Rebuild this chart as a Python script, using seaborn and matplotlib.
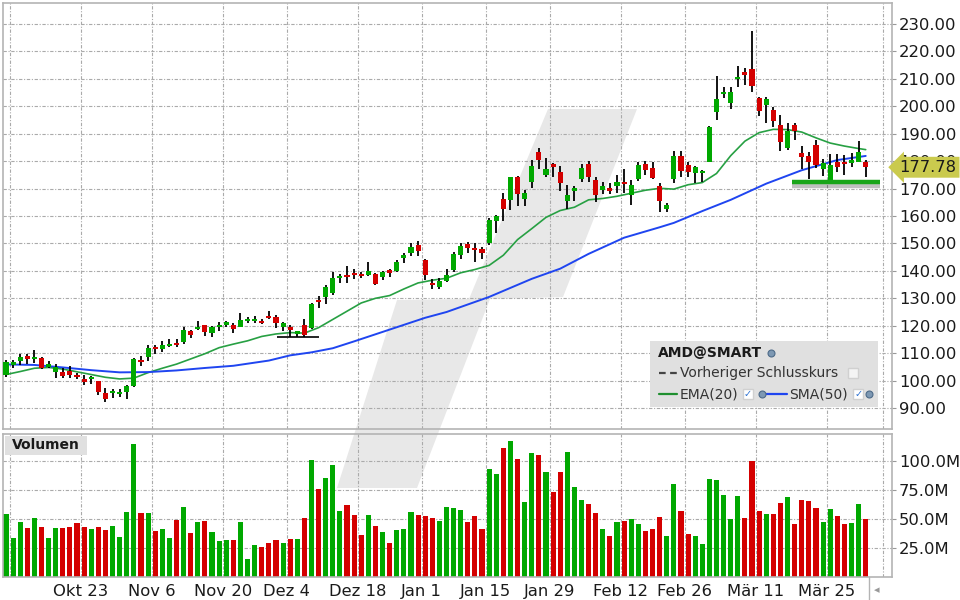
import numpy as np
import pandas as pd
import matplotlib as mpl
mpl.use('Agg')
import matplotlib.pyplot as plt
import matplotlib.patheffects as pe
from matplotlib.patches import Polygon, Rectangle
from matplotlib.lines import Line2D
from matplotlib.transforms import blended_transform_factory
import seaborn as sns

sns.set_style('white', {'axes.edgecolor': '#b4b4b4'})
mpl.rcParams.update({'font.family': ['DejaVu Sans'], 'font.size': 11.8,
                     'text.color': '#1a1a1a'})

# Data (AMD daily, Oct 6 2023 - Apr 2 2024)
start_date = '2023-10-06'
end_date = '2024-04-02'
holidays = ['2023-11-23', '2023-12-25', '2024-01-01', '2024-01-15',
            '2024-02-19', '2024-03-29']

opens = [102.0, 105.8, 107.1, 109.0, 107.9, 108.2, 105.1, 103.1, 103.2, 103.5,
         102.0, 100.5, 100.6, 99.9, 95.4, 95.4, 95.1, 95.8, 98.0, 107.6,
         108.7, 112.4, 111.5, 112.6, 113.7, 114.2, 118.1, 118.8, 120.3, 117.2,
         119.4, 120.3, 120.1, 119.7, 121.6, 121.8, 121.7, 123.6, 123.2, 119.7,
         119.5, 117.1, 120.1, 119.0, 129.5, 130.6, 132.1, 137.5, 138.5, 139.2,
         138.9, 138.5, 138.9, 137.8, 140.3, 139.9, 144.8, 146.4, 149.4, 144.0,
         135.6, 134.2, 136.4, 140.3, 145.8, 149.8, 148.5, 148.0, 150.0, 158.3,
         166.2, 165.8, 174.2, 166.2, 172.4, 183.3, 175.0, 179.1, 176.0, 165.6,
         169.2, 173.6, 179.0, 173.1, 169.6, 170.2, 171.0, 172.4, 167.7, 173.5,
         179.0, 177.6, 170.9, 162.6, 173.4, 181.9, 178.6, 175.8, 175.8, 179.8,
         198.0, 204.5, 201.1, 209.9, 212.5, 213.6, 202.9, 200.6, 198.6, 193.2,
         184.9, 193.2, 182.9, 181.9, 185.9, 177.1, 172.5, 179.8, 179.8, 179.2,
         179.8, 179.6]
highs = [107.5, 107.5, 109.7, 109.7, 111.1, 108.7, 107.0, 106.0, 104.5, 105.3,
         102.9, 102.0, 101.7, 100.0, 97.2, 96.8, 96.8, 98.4, 108.1, 109.0,
         113.0, 113.0, 114.4, 115.2, 115.3, 119.4, 118.4, 121.7, 120.4, 119.9,
         121.5, 121.9, 120.9, 124.5, 123.3, 123.6, 122.3, 125.4, 123.9, 121.2,
         120.3, 118.2, 122.6, 128.2, 130.8, 134.8, 139.7, 138.9, 141.8, 140.7,
         139.7, 143.3, 139.1, 139.9, 140.6, 143.8, 146.4, 150.3, 150.9, 144.4,
         136.9, 137.3, 140.7, 147.0, 150.0, 150.5, 150.0, 148.8, 159.4, 160.4,
         168.5, 174.4, 174.6, 169.5, 180.4, 184.9, 181.1, 179.5, 178.2, 171.3,
         170.9, 179.0, 179.9, 174.1, 172.5, 172.2, 175.0, 177.1, 173.1, 179.8,
         180.2, 179.8, 171.9, 164.9, 183.7, 183.7, 179.8, 178.4, 176.8, 192.8,
         211.0, 207.2, 207.2, 214.7, 213.8, 227.4, 203.5, 203.5, 199.6, 196.8,
         193.8, 193.8, 185.5, 183.5, 187.7, 180.7, 182.6, 182.6, 182.2, 183.1,
         187.4, 180.4]
lows = [101.4, 104.5, 105.7, 106.0, 106.3, 104.1, 104.5, 101.1, 101.1, 100.8,
        100.5, 98.4, 98.8, 94.6, 92.3, 93.8, 93.9, 93.4, 97.8, 105.3,
        107.1, 109.7, 110.5, 112.2, 112.4, 113.3, 115.4, 118.4, 116.3, 116.0,
        118.1, 119.4, 117.5, 119.4, 121.1, 121.1, 120.6, 122.3, 119.0, 118.2,
        116.0, 116.0, 116.0, 118.8, 126.3, 127.8, 131.2, 135.7, 135.5, 136.9,
        137.3, 138.1, 134.8, 136.7, 137.9, 139.6, 142.7, 145.5, 145.5, 136.7,
        133.3, 133.5, 136.1, 139.7, 144.3, 146.4, 143.4, 144.3, 149.4, 153.9,
        158.0, 162.2, 163.7, 163.7, 170.1, 177.3, 174.1, 174.1, 169.2, 162.4,
        165.6, 172.5, 172.3, 165.2, 167.9, 167.9, 168.3, 168.3, 164.0, 172.9,
        175.0, 173.4, 161.6, 161.6, 171.9, 174.3, 174.3, 171.9, 172.5, 179.8,
        195.0, 203.1, 198.9, 207.2, 207.8, 205.3, 196.5, 194.0, 192.6, 183.7,
        184.1, 187.7, 177.0, 173.5, 177.4, 174.6, 172.5, 176.2, 175.0, 178.0,
        179.8, 174.3]
closes = [106.7, 106.8, 108.6, 107.9, 108.6, 104.6, 106.0, 104.8, 101.7, 102.0,
          101.2, 99.5, 101.4, 96.0, 93.3, 96.2, 95.8, 98.0, 107.9, 106.9,
          111.9, 111.6, 113.0, 113.5, 113.0, 118.4, 116.6, 119.6, 117.8, 119.6,
          120.3, 121.4, 118.9, 122.1, 122.3, 122.4, 121.1, 122.9, 121.1, 121.1,
          118.4, 118.1, 116.7, 127.9, 128.8, 134.1, 137.4, 138.1, 137.8, 138.5,
          138.1, 140.0, 135.2, 139.7, 139.2, 143.2, 145.8, 148.7, 147.2, 138.6,
          134.8, 136.2, 138.5, 146.2, 149.1, 148.5, 147.7, 146.5, 158.6, 160.0,
          162.6, 174.1, 168.0, 168.5, 178.2, 180.4, 177.1, 177.9, 172.2, 167.6,
          170.2, 177.6, 174.3, 167.8, 170.9, 169.2, 172.4, 171.8, 171.3, 178.6,
          176.8, 174.0, 165.6, 164.0, 181.9, 176.5, 176.2, 177.9, 176.4, 192.6,
          202.7, 205.2, 205.2, 210.6, 211.5, 207.5, 198.4, 202.7, 194.8, 187.1,
          191.1, 191.1, 181.6, 179.8, 178.6, 179.4, 178.6, 178.0, 179.0, 180.4,
          183.3, 177.78]
volumes = [54.0, 33.3, 47.1, 42.0, 50.6, 42.8, 33.3, 42.0, 42.0, 42.8,
           46.3, 42.8, 41.1, 42.8, 40.2, 43.7, 34.2, 55.8, 114.4, 54.9,
           54.9, 39.4, 41.1, 33.3, 48.9, 60.1, 37.6, 47.1, 48.0, 38.5,
           30.8, 31.6, 31.6, 47.1, 15.2, 27.3, 25.6, 29.0, 31.6, 29.0,
           32.5, 32.5, 50.6, 100.6, 75.6, 85.1, 96.3, 56.6, 61.8, 53.2,
           35.9, 53.2, 43.7, 38.5, 29.0, 40.2, 41.1, 55.8, 53.2, 52.3,
           50.6, 48.0, 60.1, 59.2, 57.5, 47.1, 52.3, 41.1, 92.8, 88.5,
           110.9, 117.0, 101.5, 64.4, 106.6, 104.9, 90.2, 73.0, 90.2, 107.5,
           77.3, 66.1, 62.7, 54.9, 41.1, 35.1, 47.1, 48.0, 49.7, 45.4,
           39.4, 41.1, 51.4, 35.1, 79.9, 56.6, 36.8, 35.1, 28.2, 84.2,
           83.3, 70.4, 49.7, 69.5, 50.6, 99.7, 56.6, 54.0, 54.0, 63.5,
           68.7, 45.4, 66.1, 65.2, 59.2, 47.1, 58.3, 52.3, 45.4, 46.3,
           62.7, 49.7]

# EMA(20) and SMA(50) read at bar positions
ema_pos = list(range(0, 121, 2)) + [121]
ema_vals = [102.2, 103.3, 104.5, 104.8, 104.2, 103.2, 102.2, 101.2, 100.6, 100.9,
            102.9, 104.5, 106.0, 107.9, 109.8, 112.0, 113.3, 114.5, 116.1, 117.0,
            117.5, 117.3, 119.3, 122.3, 125.3, 128.3, 130.0, 131.0, 133.4, 135.6,
            136.6, 137.3, 139.3, 140.5, 142.0, 145.7, 151.4, 155.4, 159.5, 162.0,
            163.2, 165.9, 166.4, 167.2, 168.3, 169.4, 170.1, 169.8, 171.4, 172.2,
            175.5, 182.0, 187.3, 190.4, 191.6, 191.5, 190.6, 188.5, 186.6, 185.5,
            184.6, 184.2]
sma_pos = [0, 4, 8, 12, 16, 20, 24, 28, 32, 37, 40, 43, 46, 49, 54, 59, 62, 68,
           74, 78, 82, 87, 92, 94, 98, 102, 107, 112, 117, 121]
sma_vals = [105.9, 105.7, 104.8, 103.8, 103.0, 103.1, 103.7, 104.6, 105.4, 107.3,
            109.2, 110.3, 111.8, 114.3, 118.6, 122.9, 125.0, 130.5, 137.1, 140.8,
            146.2, 152.1, 155.9, 157.5, 161.8, 165.9, 171.8, 176.7, 180.4, 181.9]

tick_dates = ['2023-10-23', '2023-11-06', '2023-11-20', '2023-12-04',
              '2023-12-18', '2024-01-01', '2024-01-15', '2024-01-29',
              '2024-02-12', '2024-02-26', '2024-03-11', '2024-03-25']
tick_labels = ['Okt 23', 'Nov 6', 'Nov 20', 'Dez 4', 'Dez 18', 'Jan 1',
               'Jan 15', 'Jan 29', 'Feb 12', 'Feb 26', 'Mär 11', 'Mär 25']
extra_grid = ['2023-10-09']

# drawn support levels: (price, first bar, last bar)
support_low = (115.8, 38.1, 44.05)
support_high = (172.4, 110.6, 123.0)

price_ticks = np.arange(90, 231, 10)
volume_ticks = [25, 50, 75, 100]

GREEN = '#00a800'
RED = '#d40000'
GRID = dict(color='#aaaaaa', linestyle=(0, (3, 1.5, 1, 1.5)), linewidth=0.8)

dates = pd.bdate_range(start_date, end_date, freq='C', holidays=holidays)
df = pd.DataFrame({'date': dates, 'open': opens, 'high': highs, 'low': lows,
                   'close': closes, 'volume': volumes})
df['idx'] = np.arange(len(df))
df['dir'] = np.where(df['close'] >= df['open'], 'up', 'down')

fig = plt.figure(figsize=(9.6, 6), dpi=100)
fig.patch.set_facecolor('white')
ax_p = fig.add_axes([3 / 960, 171 / 600, 889 / 960, 426 / 600])
ax_v = fig.add_axes([3 / 960, 23 / 600, 889 / 960, 143 / 600], sharex=ax_p)
for ax in (ax_p, ax_v):
    ax.set_facecolor('none')
    ax.set_axisbelow(True)
    for sp in ax.spines.values():
        sp.set_color('#b4b4b4')
        sp.set_linewidth(1.2)

# watermark behind both panels
wm = [(548, 109), (637, 109), (563, 297), (490, 299), (417, 488), (337, 488),
      (397, 300), (469, 299)]
fig.patches.append(Polygon([(x / 960, 1 - y / 600) for x, y in wm],
                           closed=True, transform=fig.transFigure,
                           fc='#e8e8e8', ec='none', zorder=-1))

# Price panel
sns.lineplot(x=ema_pos, y=ema_vals, color='#27a043', lw=1.2, ax=ax_p, zorder=2)
sns.lineplot(x=sma_pos, y=sma_vals, color='#1f45f0', lw=1.4, ax=ax_p, zorder=2)

colors = np.where(df['dir'] == 'up', GREEN, RED)
ax_p.vlines(df['idx'], df['low'], df['high'], color='black', lw=1.3, zorder=3)
body_lo = np.minimum(df['open'], df['close'])
body_h = np.maximum(np.abs(df['close'] - df['open']), 0.4)
ax_p.bar(df['idx'], body_h, bottom=body_lo, width=0.72, color=colors,
         linewidth=0, zorder=4)

ax_p.plot(support_low[1:], [support_low[0]] * 2, color='black', lw=1.2,
          zorder=5, solid_capstyle='butt')
ax_p.plot(support_high[1:], [support_high[0]] * 2, color='#19a519', lw=3.2,
          zorder=5, solid_capstyle='butt', clip_on=False,
          path_effects=[pe.SimpleLineShadow(offset=(0, -3), shadow_color='black',
                                            alpha=0.25),
                        pe.Normal()])

ax_p.set_ylim(82.35, 237.66)
ax_p.set_yticks(price_ticks)
ax_p.set_yticklabels(['{:.2f}'.format(v) for v in price_ticks])
ax_p.yaxis.tick_right()
ax_p.tick_params(axis='y', direction='out', length=3, color='#999999',
                 labelsize=11.8, pad=2, labelcolor='#1a1a1a')
ax_p.tick_params(axis='x', length=0, labelbottom=False)
ax_p.set_xlabel('')
ax_p.set_ylabel('')
ax_p.grid(True, **GRID)

# last price label
last_close = closes[-1]
tr = blended_transform_factory(ax_p.transAxes, ax_p.transData)
ax_p.text(1.0085, last_close, '{:.2f}'.format(last_close), transform=tr,
          ha='left', va='center', fontsize=11.8, color='#1a1a1a', zorder=10,
          clip_on=False,
          bbox=dict(boxstyle='larrow,pad=0.18', fc='#caca4e', ec='none'))

# legend box
lg_tr = ax_p.transAxes
ax_p.add_patch(Rectangle((0.728, 0.0516), 0.256, 0.155, transform=lg_tr,
                         fc='#e0e0e0', ec='none', zorder=6))
ax_p.text(0.737, 0.178, 'AMD@SMART', transform=lg_tr, fontsize=10,
          fontweight='bold', va='center', zorder=7)
ax_p.add_line(Line2D([0.738, 0.758], [0.131, 0.131], transform=lg_tr,
                     color='#444444', lw=1.6, ls=(0, (3, 2)), zorder=7))
ax_p.text(0.7615, 0.131, 'Vorheriger Schlusskurs', transform=lg_tr,
          fontsize=10, va='center', color='#333333', zorder=7)
ax_p.add_line(Line2D([0.738, 0.758], [0.082, 0.082], transform=lg_tr,
                     color='#1f8f2f', lw=1.6, zorder=7))
ax_p.text(0.7615, 0.082, 'EMA(20)', transform=lg_tr, fontsize=10,
          va='center', color='#333333', zorder=7)
ax_p.add_line(Line2D([0.857, 0.882], [0.082, 0.082], transform=lg_tr,
                     color='#1f45f0', lw=1.6, zorder=7))
ax_p.text(0.8845, 0.082, 'SMA(50)', transform=lg_tr, fontsize=10,
          va='center', color='#333333', zorder=7)
for gx, gy in [(0.864, 0.178), (0.854, 0.082), (0.974, 0.082)]:
    ax_p.plot([gx], [gy], marker='o', ms=5, mfc='#7d98b3', mec='#4d6a88',
              mew=0.8, transform=lg_tr, zorder=8, clip_on=False)
for cx in [0.838, 0.962]:
    ax_p.plot([cx], [0.082], marker='s', ms=7, mfc='white', mec='#d0d0d0',
              transform=lg_tr, zorder=8)
    ax_p.text(cx, 0.082, '\u2713', transform=lg_tr, fontsize=7,
              color='#2a6fd0', ha='center', va='center', zorder=9)
ax_p.plot([0.956], [0.131], marker='s', ms=7, mfc='#f4f4f4', mec='#d0d0d0',
          transform=lg_tr, zorder=8)

# Volume panel
sns.barplot(data=df, x='idx', y='volume', hue='dir',
            palette={'up': GREEN, 'down': RED}, native_scale=True,
            dodge=False, width=0.72, saturation=1, errorbar=None,
            legend=False, linewidth=0, ax=ax_v)
ax_v.set_ylim(0, 123)
ax_v.set_yticks(volume_ticks)
ax_v.set_yticklabels(['{:.1f}M'.format(v) for v in volume_ticks])
ax_v.yaxis.tick_right()
ax_v.tick_params(axis='y', direction='out', length=3, color='#999999',
                 labelsize=11.8, pad=2, labelcolor='#1a1a1a')
ax_v.set_xlabel('')
ax_v.set_ylabel('')
ax_v.grid(True, **GRID)
ax_v.add_patch(Rectangle((0.002, 0.853), 0.0925, 0.133,
                         transform=ax_v.transAxes, fc='#e0e0e0', ec='none',
                         zorder=6))
ax_v.text(0.0105, 0.92, 'Volumen', transform=ax_v.transAxes, fontsize=10,
          fontweight='bold', va='center', zorder=7)

# x ticks sit on the session boundaries
tick_pos = [df['date'].searchsorted(pd.Timestamp(d)) - 0.5 for d in tick_dates]
extra_pos = [df['date'].searchsorted(pd.Timestamp(d)) - 0.5 for d in extra_grid]
extra_pos.append(len(df) + 1.5)
ax_v.set_xticks(extra_pos[:1] + tick_pos + extra_pos[1:])
ax_v.set_xticklabels([''] + tick_labels + [''])
ax_v.tick_params(axis='x', length=0, labelsize=11.8, pad=5,
                 labelcolor='#1a1a1a')
ax_p.set_xlim(-0.42, 124.7)

# small marker at the latest bar below the axis
fig.add_artist(Line2D([869 / 960, 869 / 960], [0, 23 / 600], color='#b4b4b4',
                      lw=1, transform=fig.transFigure))
fig.text(877 / 960, 10 / 600, '\u25c2', fontsize=8, color='#999999',
         ha='center', va='center')

fig.savefig('out.png', dpi=100, facecolor='white')
